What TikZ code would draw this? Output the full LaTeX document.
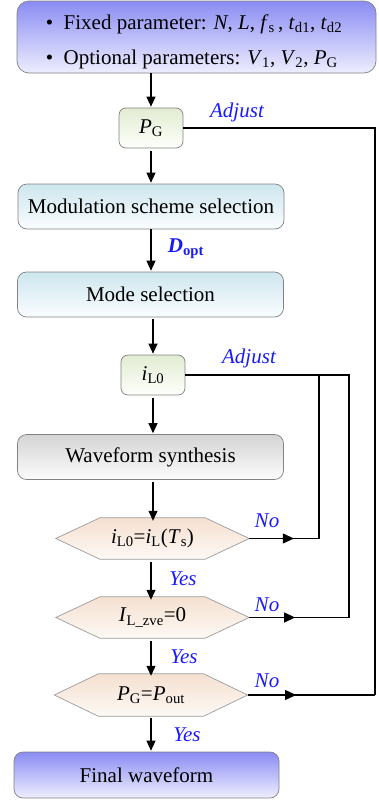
\documentclass[tikz,border=0pt]{standalone}
\usepackage{fontspec}
\setmainfont{Liberation Serif}
\usetikzlibrary{arrows.meta,decorations.markings}
\definecolor{lblue}{RGB}{26,26,255}
\definecolor{bordc}{RGB}{130,130,130}
\definecolor{purtop}{RGB}{138,140,242}
\definecolor{purbot}{RGB}{238,238,255}
\definecolor{cyantop}{RGB}{205,230,238}
\definecolor{cyanbot}{RGB}{250,253,255}
\definecolor{graytop}{RGB}{212,212,212}
\definecolor{graybot}{RGB}{252,252,252}
\definecolor{greentop}{RGB}{226,236,210}
\definecolor{greenbot}{RGB}{253,255,250}
\definecolor{hextop}{RGB}{245,224,208}
\definecolor{hexbot}{RGB}{253,249,245}
\newcommand{\sub}[1]{\textsubscript{#1}}
\begin{document}
\begin{tikzpicture}[x=1pt,y=-1pt,
  every node/.style={font=\fontsize{21}{25}\selectfont, inner sep=0pt},
  box/.style={draw=bordc, line width=0.7pt, rounded corners=9pt, align=center},
  smallbox/.style={box, rounded corners=7pt, minimum width=64pt, minimum height=40pt, top color=greentop, bottom color=greenbot},
  widebox/.style={box, minimum width=266pt, minimum height=45pt},
  hexnode/.style={minimum width=193pt, minimum height=41pt},
  lbl/.style={text=lblue, font=\fontsize{21}{25}\selectfont\itshape},
  line/.style={line width=1.1pt},
  arr/.style={line, -{Triangle[length=10pt,width=9pt]}, shorten >=1pt},
  midarrow/.style={line, postaction={decorate}, decoration={markings,
    mark=at position #1 with {\arrow{Triangle[length=11pt,width=10pt]}}}}
]
\useasboundingbox (0,0) rectangle (378,801);

% nodes
\node[box, rounded corners=12pt, minimum width=359pt, minimum height=72pt,
  top color=purtop, bottom color=purbot] (top) at (196.5,37) {};
\node[align=left, font=\fontsize{21}{35}\selectfont] (toptext) at (194,42)
  {\textbullet\ \ Fixed parameter: \textit{N}, \textit{L}, \textit{f}\sub{s}\,, \textit{t}\sub{d1}, \textit{t}\sub{d2}\\
   \textbullet\ \ Optional parameters: \textit{V}\sub{1}, \textit{V}\sub{2}, \textit{P}\sub{G}};
\node[smallbox] (pg) at (151,128) {\textit{P}\sub{G}};
\node[widebox, top color=cyantop, bottom color=cyanbot] (mod) at (151,206.5) {Modulation scheme selection};
\node[widebox, top color=cyantop, bottom color=cyanbot] (mode) at (150.5,294.5) {Mode selection};
\node[smallbox] (il) at (153,375) {\textit{i}\sub{L0}};
\node[widebox, top color=graytop, bottom color=graybot] (wav) at (150.5,457) {Waveform synthesis};
\node[hexnode] (h1) at (152.5,538.5) {};
\node[hexnode] (h2) at (152.5,617.5) {};
\node[hexnode, minimum height=42pt] (h3) at (151,695) {};
\node[box, minimum width=265pt, minimum height=46pt, top color=purtop, bottom color=purbot] (fin) at (146.5,775) {Final waveform};

% hexagon outlines
\foreach \h in {h1,h2,h3}{
  \shade[top color=hextop, bottom color=hexbot, draw=bordc!80, line width=0.7pt]
    (\h.west) -- ([xshift=44pt]\h.north west) -- ([xshift=-44pt]\h.north east)
    -- (\h.east) -- ([xshift=-44pt]\h.south east) -- ([xshift=44pt]\h.south west) -- cycle;
}
\node (h1t) at (h1) {\textit{i}\sub{L0}=\textit{i}\sub{L}(\textit{T}\sub{s})};
\node (h2t) at (h2) {\textit{I}\sub{L\_zve}=0};
\node (h3t) at (h3) {\textit{P}\sub{G}=\textit{P}\sub{out}};

% vertical arrows
\draw[arr] (top.south -| pg.north) -- (pg.north);
\draw[arr] ([yshift=-3pt]pg.south) -- (pg.south |- mod.north);
\draw[arr] (mod.south -| pg.south) -- (pg.south |- mode.north);
\draw[arr] ([yshift=-2pt]mode.south -| il.north) -- (il.north);
\draw[arr] ([yshift=-3pt]il.south) -- (il.south |- wav.north);
\draw[arr] ([yshift=-2pt]wav.south -| il.south) -- ([yshift=-4pt]il.south |- h1.north);
\draw[arr] ([yshift=-3pt]h1.south -| pg.south) -- ([yshift=-4pt]pg.south |- h2.north);
\draw[arr] ([yshift=-3pt]h2.south -| pg.south) -- ([yshift=-3pt]pg.south |- h3.north);
\draw[arr] ([yshift=-2pt]h3.south) -- (h3.south |- fin.north);

% feedback lines
\coordinate (r3) at (375,695);
\coordinate (a1) at (319,375);
\coordinate (a2) at (349,375);
\draw[line] (pg.east) -| (r3);
\draw[midarrow=0.38] (h3.east) -- (r3);
\draw[line] (il.east) -- (a2) -- (a2 |- h2.east);
\draw[line] (a1) -- (a1 |- h1.east);
\draw[midarrow=0.64] (h1.east) -- (a1 |- h1.east);
\draw[midarrow=0.46] (h2.east) -- (a2 |- h2.east);

% labels
\node[lbl] (adj1) at (237,112) {Adjust};
\node[lbl] (adj2) at (249,358) {Adjust};
\node[text=lblue, font=\fontsize{21}{25}\selectfont\bfseries\itshape] (dopt) at (186,249) {\textit{D}\sub{\upshape opt}};
\node[lbl] (no1) at (267,521) {No};
\node[lbl] (no2) at (267,605) {No};
\node[lbl] (no3) at (267,681) {No};
\node[lbl] (yes1) at (183,579) {Yes};
\node[lbl] (yes2) at (184,657) {Yes};
\node[lbl] (yes3) at (187,735) {Yes};
\end{tikzpicture}
\end{document}
